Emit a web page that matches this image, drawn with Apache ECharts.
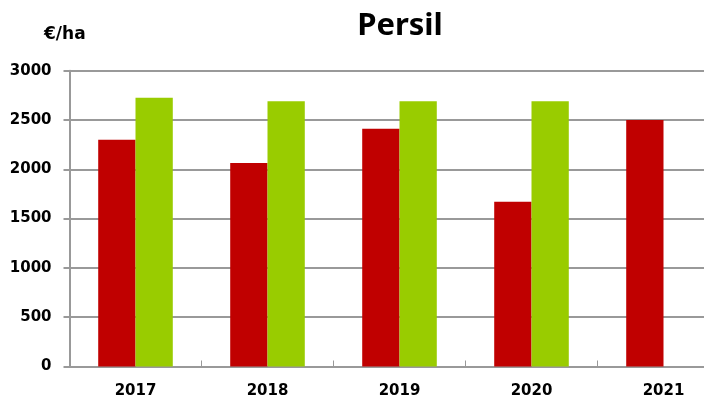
<!DOCTYPE html>
<html>
<head>
<meta charset="utf-8">
<title>Persil</title>
<script src="https://cdn.jsdelivr.net/npm/echarts@6/dist/echarts.min.js"></script>
<style>
  html, body { margin: 0; padding: 0; background: #fff; overflow: hidden; }
  #chart { width: 730px; height: 401px; }
</style>
</head>
<body>
<div id="chart"></div>
<script>
var years = ['2017', '2018', '2019', '2020', '2021'];
var redValues = [2300, 2065, 2410, 1670, 2500];
var greenValues = [2725, 2690, 2690, 2690, null];
var yTicks = [0, 500, 1000, 1500, 2000, 2500, 3000];

var myChart = echarts.init(document.getElementById('chart'));
var labelFont = { color: '#000', fontFamily: 'DejaVu Sans', fontWeight: 'bold', fontSize: 15 };
var option = {
    animation: false,
    title: {
        text: 'Persil',
        left: 395,
        textAlign: 'center',
        top: 6,
        textStyle: { fontFamily: 'Noto Sans', fontWeight: 'bold', fontSize: 31, color: '#000' }
    },
    graphic: [{
        type: 'text',
        left: 44,
        top: 26,
        style: { text: '€/ha', fill: '#000', font: 'bold 17px "DejaVu Sans"' }
    }],
    grid: { left: 69.5, top: 70.7, height: 295.8, width: 660 },
    xAxis: {
        type: 'category',
        data: years,
        axisLine: { lineStyle: { color: '#999', width: 2 } },
        axisTick: { show: true, inside: true, length: 6, lineStyle: { color: '#999', width: 1 } },
        axisLabel: Object.assign({ margin: 17 }, labelFont)
    },
    yAxis: {
        type: 'value',
        min: yTicks[0],
        max: yTicks[yTicks.length - 1],
        interval: 500,
        axisLine: { show: true, lineStyle: { color: '#999', width: 2 } },
        axisTick: { show: true, length: 6, lineStyle: { color: '#999', width: 2 } },
        splitLine: { lineStyle: { color: '#999', width: 2 } },
        axisLabel: Object.assign({ margin: 18, formatter: function (v) { return String(v); } }, labelFont)
    },
    series: [
        {
            type: 'bar',
            data: redValues,
            barGap: '0%',
            barCategoryGap: '43.5%',
            itemStyle: { color: '#C00000' }
        },
        {
            type: 'bar',
            data: greenValues,
            itemStyle: { color: '#99CC00' }
        }
    ]
};
option && myChart.setOption(option);
</script>
</body>
</html>
